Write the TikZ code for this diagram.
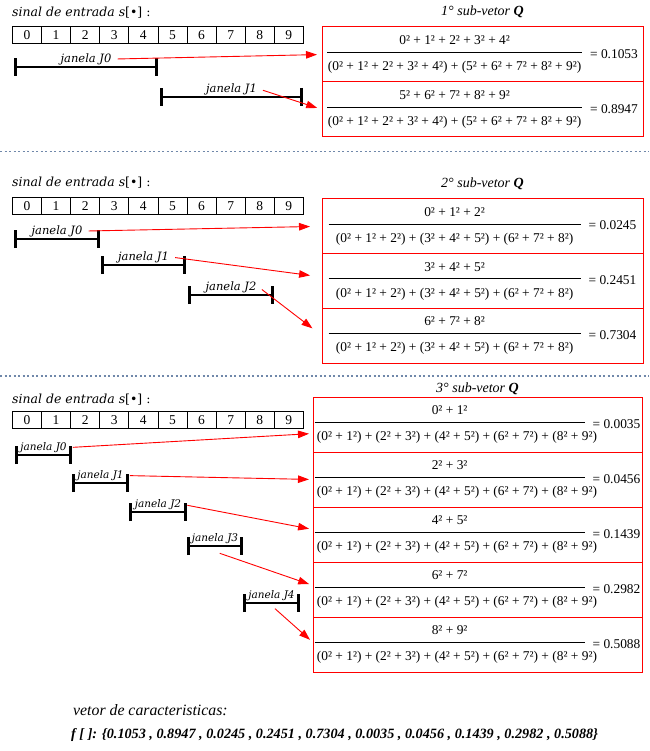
\documentclass[tikz,border=0pt]{standalone}
\usepackage{fontspec}
\setmainfont{Liberation Serif}
\newfontfamily\rotulofont{DejaVu Serif}
\usepackage{tikz}
\usetikzlibrary{arrows.meta}
\usetikzlibrary{positioning}
\usetikzlibrary{calc}

\definecolor{tracejado}{RGB}{112,136,170}

% fracao de um sub-vetor: [comprimento do traco]{numerador}{denominador}{valor}
\newcommand{\razao}[4][255pt]{%
  \begin{tabular}{@{}c@{}}#2\\[-2pt]\rule[5pt]{#1}{0.7pt}\\[-2pt]#3\end{tabular}\hspace{8pt}= #4}
% denominadores de cada sub-vetor
\newcommand{\denum}{(0² + 1² + 2² + 3² + 4²) + (5² + 6² + 7² + 8² + 9²)}
\newcommand{\dendois}{(0² + 1² + 2²) + (3² + 4² + 5²) + (6² + 7² + 8²)}
\newcommand{\dentres}{\makebox[270pt][l]{\,(0² + 1²) + (2² + 3²) + (4² + 5²) + (6² + 7²) + (8² + 9²)}}

\begin{document}
\begin{tikzpicture}[
        x=1pt, y=1pt, % 1 unidade = 1 pixel da figura
        celula/.style={draw, line width=0.8pt, minimum width=29.1pt, minimum height=17pt,
            inner sep=0pt, anchor=north west, font=\fontsize{13.5}{15}\selectfont}, % Celulas do sinal
        janela/.style={{Bar[width=18pt]}-{Bar[width=18pt]}, line width=2.6pt}, % Janelas
        rotulo/.style={font=\rotulofont\itshape\fontsize{11.5}{13}\selectfont, inner sep=1pt}, % Rotulos das janelas
        rotulo menor/.style={rotulo, font=\rotulofont\itshape\fontsize{10.5}{12}\selectfont},
        sinal/.style={font=\rotulofont\fontsize{12.5}{14}\selectfont, anchor=base west, inner sep=0pt}, % Titulo do sinal
        titulo/.style={font=\itshape\fontsize{14}{16}\selectfont, inner sep=2pt}, % Titulo dos sub-vetores
        linha/.style={draw=red, line width=1pt, outer sep=0pt, minimum height=55pt,
            inner sep=0pt, font=\fontsize{13.4}{15}\selectfont}, % Linhas das tabelas
        seta/.style={-{Triangle[length=11pt,width=7.5pt]}, red, line width=0.9pt, shorten <=4pt}, % Setas
        separador/.style={dash pattern=on 2pt off 2.5pt, draw=tracejado, line width=1.5pt} % Linhas tracejadas
    ]
        % --- Area da figura ---
        \useasboundingbox (0,0) rectangle (649,-751);

        % ================= 1o sub-vetor =================
        % --- Sinal de entrada ---
        \foreach \i in {0,...,9}
            \node[celula] (a1\i) at ({12+29.1*\i},-26.5) {\i};
        \node[sinal] (e1) at ([yshift=10pt]a10.north west) {{\itshape sinal de entrada s}[•] :};

        % --- Janelas ---
        \coordinate (j10a) at (14,-67); \coordinate (j10b) at (158,-67);
        \coordinate (j11a) at (160,-97); \coordinate (j11b) at (303,-97);
        \draw[janela] (j10a) -- (j10b) node[midway, above, rotulo] (r10) {janela J0};
        \draw[janela] (j11a) -- (j11b) node[midway, above, rotulo] (r11) {janela J1};

        % --- Tabela do sub-vetor ---
        \node[linha, minimum width=321pt] (q1a) at (482.5,-54.5)
            {\razao{0² + 1² + 2² + 3² + 4²}{\denum}{0.1053}};
        \node[linha, minimum width=321pt, below=0pt of q1a] (q1b)
            {\razao{5² + 6² + 7² + 8² + 9²}{\denum}{0.8947}};
        \node[titulo, above=7pt of q1a] (t1) {1° sub-vetor \textbf{Q}};

        % --- Setas ---
        \draw[seta, shorten >=5pt] (r10.east) -- (q1a.west);
        \draw[seta, shorten >=5pt] (r11.east) -- (q1b.west);

        \draw[separador] (0,-151.5) -- (649,-151.5);

        % ================= 2o sub-vetor =================
        \foreach \i in {0,...,9}
            \node[celula] (a2\i) at ({12+29.1*\i},-197) {\i};
        \node[sinal] (e2) at ([yshift=10pt]a20.north west) {{\itshape sinal de entrada s}[•] :};

        \coordinate (j20a) at (14,-239); \coordinate (j20b) at (100,-239);
        \coordinate (j21a) at (101,-265); \coordinate (j21b) at (186,-265);
        \coordinate (j22a) at (188,-295); \coordinate (j22b) at (274,-295);
        \draw[janela] (j20a) -- (j20b) node[midway, above, rotulo] (r20) {janela J0};
        \draw[janela] (j21a) -- (j21b) node[midway, above, rotulo] (r21) {janela J1};
        \draw[janela] (j22a) -- (j22b) node[midway, above, rotulo] (r22) {janela J2};

        \node[linha, minimum width=321pt, minimum height=54.7pt] (q2a) at (482.5,-226.3)
            {\razao[252pt]{0² + 1² + 2²}{\dendois}{0.0245}};
        \node[linha, minimum width=321pt, minimum height=54.7pt, below=0pt of q2a] (q2b)
            {\razao[252pt]{3² + 4² + 5²}{\dendois}{0.2451}};
        \node[linha, minimum width=321pt, minimum height=54.7pt, below=0pt of q2b] (q2c)
            {\razao[252pt]{6² + 7² + 8²}{\dendois}{0.7304}};
        \node[titulo, above=7pt of q2a] (t2) {2° sub-vetor \textbf{Q}};

        \draw[seta, shorten >=12pt] (r20.east) -- (q2a.west);
        \draw[seta, shorten >=12pt] (r21.east) -- ([yshift=4pt]q2b.west);
        \draw[seta, shorten >=12pt] (r22.east) -- (q2c.west);

        \draw[separador] (0,-376) -- (649,-376);

        % ================= 3o sub-vetor =================
        \foreach \i in {0,...,9}
            \node[celula] (a3\i) at ({12+29.1*\i},-411) {\i};
        \node[sinal] (e3) at ([yshift=8pt]a30.north west) {{\itshape sinal de entrada s}[•] :};

        \coordinate (j30a) at (15,-455); \coordinate (j30b) at (72,-455);
        \coordinate (j31a) at (72,-483); \coordinate (j31b) at (129,-483);
        \coordinate (j32a) at (129,-512); \coordinate (j32b) at (187,-512);
        \coordinate (j33a) at (187,-546); \coordinate (j33b) at (243,-546);
        \coordinate (j34a) at (243,-603); \coordinate (j34b) at (300,-603);
        \draw[janela] (j30a) -- (j30b) node[midway, above, rotulo menor] (r30) {janela J0};
        \draw[janela] (j31a) -- (j31b) node[midway, above, rotulo menor] (r31) {janela J1};
        \draw[janela] (j32a) -- (j32b) node[midway, above, rotulo menor] (r32) {janela J2};
        \draw[janela] (j33a) -- (j33b) node[midway, above, rotulo menor] (r33) {janela J3};
        \draw[janela] (j34a) -- (j34b) node[midway, above, rotulo menor] (r34) {janela J4};
        % saidas das setas abaixo das janelas J3 e J4
        \coordinate (o33) at (216,-552);
        \coordinate (o34) at (272,-606);

        \node[linha, minimum width=329pt] (q3a) at (477.5,-424.5)
            {\razao[270pt]{0² + 1²}{\dentres}{0.0035}};
        \node[linha, minimum width=329pt, below=0pt of q3a] (q3b)
            {\razao[270pt]{2² + 3²}{\dentres}{0.0456}};
        \node[linha, minimum width=329pt, below=0pt of q3b] (q3c)
            {\razao[270pt]{4² + 5²}{\dentres}{0.1439}};
        \node[linha, minimum width=329pt, below=0pt of q3c] (q3d)
            {\razao[270pt]{6² + 7²}{\dentres}{0.2982}};
        \node[linha, minimum width=329pt, below=0pt of q3d] (q3e)
            {\razao[270pt]{8² + 9²}{\dentres}{0.5088}};
        \node[titulo, above=0pt of q3a] (t3) {3° sub-vetor \textbf{Q}};

        \draw[seta, shorten >=4pt] (r30.east) -- ([yshift=-9pt]q3a.west);
        \draw[seta, shorten >=4pt] (r31.east) -- (q3b.west);
        \draw[seta, shorten >=4pt] (r32.east) -- ([yshift=5pt]q3c.west);
        \draw[seta, shorten >=4pt] (o33) -- ([yshift=4pt]q3d.west);
        \draw[seta, shorten >=4pt] (o34) -- ([yshift=2pt]q3e.west);

        % --- Vetor de caracteristicas ---
        \node[anchor=base west, inner sep=0pt, font=\itshape\fontsize{15.8}{17}\selectfont] (vc) at (73,-715)
            {vetor de caracteristicas:};
        \node[anchor=base west, inner sep=0pt, font=\bfseries\itshape\fontsize{14.2}{16}\selectfont] (fv) at (71,-738)
            {f [ ]: \{0.1053 , 0.8947 , 0.0245 , 0.2451 , 0.7304 , 0.0035 , 0.0456 , 0.1439 , 0.2982 , 0.5088\}};

    \end{tikzpicture}
\end{document}
